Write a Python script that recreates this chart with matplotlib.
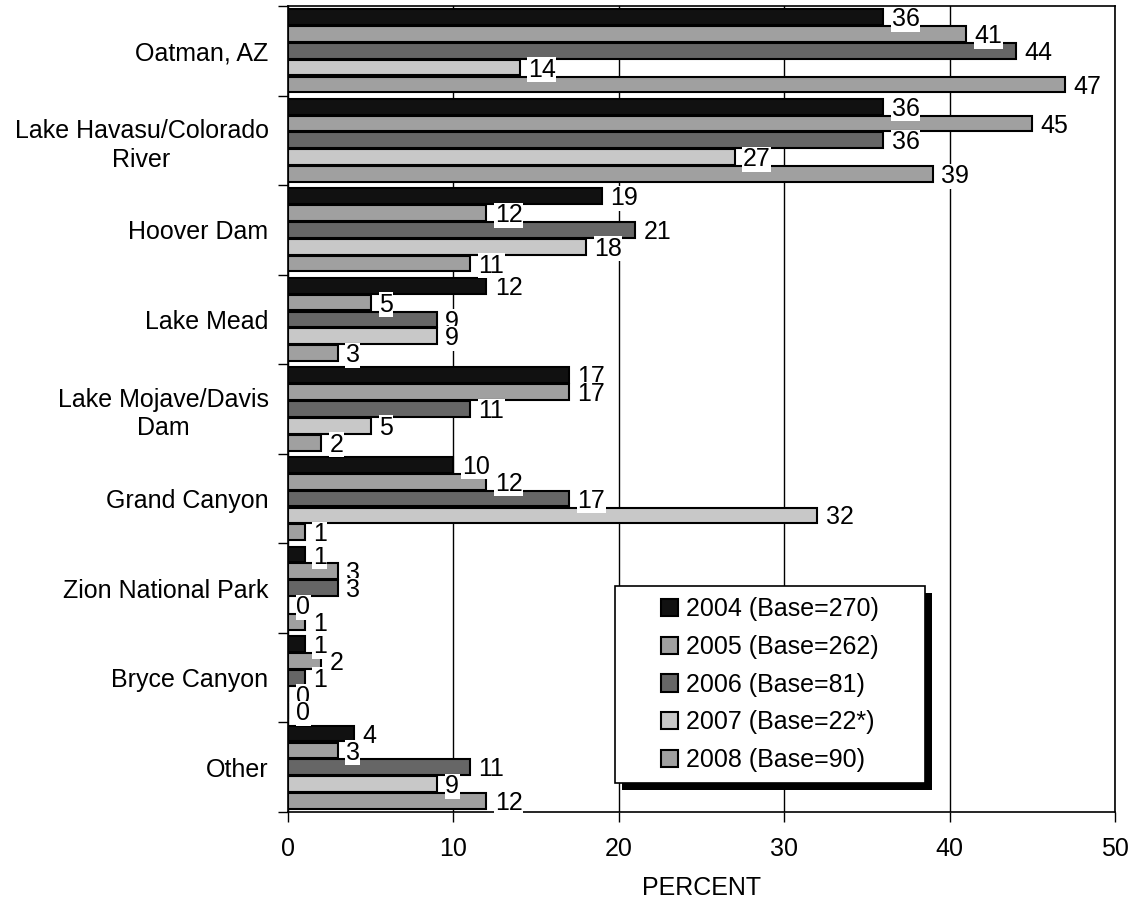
import matplotlib
matplotlib.use('Agg')
import matplotlib.pyplot as plt
from matplotlib.patches import Rectangle
import numpy as np

plt.rcParams['font.family'] = ['Liberation Sans', 'DejaVu Sans']

sites = ['Oatman, AZ', 'Lake Havasu/Colorado\nRiver', 'Hoover Dam', 'Lake Mead',
         'Lake Mojave/Davis\nDam', 'Grand Canyon', 'Zion National Park',
         'Bryce Canyon', 'Other']
series_labels = ['2004 (Base=270)', '2005 (Base=262)', '2006 (Base=81)',
                 '2007 (Base=22*)', '2008 (Base=90)']
v2004 = [36, 36, 19, 12, 17, 10, 1, 1, 4]
v2005 = [41, 45, 12, 5, 17, 12, 3, 2, 3]
v2006 = [44, 36, 21, 9, 11, 17, 3, 1, 11]
v2007 = [14, 27, 18, 9, 5, 32, 0, 0, 9]
v2008 = [47, 39, 11, 3, 2, 1, 1, 0, 12]
colors = ['#111111', '#a0a0a0', '#666666', '#c8c8c8', '#a0a0a0']

FS = 18

fig = plt.figure(figsize=(11.33, 9.07), dpi=100)
ax = fig.add_axes([0.2542, 0.1047, 0.7299, 0.8887])

n = len(sites)
group = np.arange(n)
bar_h = 0.188
for i, vals in enumerate([v2004, v2005, v2006, v2007, v2008]):
    ypos = group - 0.376 + i * bar_h
    bars = ax.barh(ypos, vals, height=bar_h - 0.012, color=colors[i],
                   edgecolor='black', linewidth=1.5, label=series_labels[i], zorder=3)
    for b, v in zip(bars, vals):
        ax.annotate(str(v), (v, b.get_y() + b.get_height() / 2),
                    xytext=(6, -1.5), textcoords='offset points',
                    va='center', ha='left', fontsize=FS, zorder=4,
                    bbox=dict(facecolor='white', edgecolor='none', pad=0.3))

ax.set_xlim(0, 50)
ax.set_ylim(n - 0.5, -0.5)
ax.set_xticks(range(0, 51, 10))
ax.tick_params(axis='x', direction='out', length=7, width=1, labelsize=FS, pad=11)
ax.xaxis.grid(True, color='black', linewidth=1, zorder=0)
ax.set_axisbelow(True)

# group boundaries get tick marks, group centres get the names
ax.set_yticks(np.arange(-0.5, n, 1.0))
ax.set_yticklabels([])
ax.set_yticks(group, minor=True)
ax.set_yticklabels(sites, minor=True, fontsize=FS, linespacing=1.25,
                   multialignment='center')
ax.tick_params(axis='y', which='major', direction='out', length=7, width=1)
ax.tick_params(axis='y', which='minor', length=0, pad=14)

for s in ax.spines.values():
    s.set_linewidth(1.2)

ax.set_xlabel('PERCENT', fontsize=FS, labelpad=11)

leg = ax.legend(loc='center', bbox_to_anchor=(0.583, 0.158), fontsize=FS,
                frameon=False, handlelength=0.68, handleheight=0.68,
                handletextpad=0.3, labelspacing=0.55, borderpad=0.0)
leg.set_zorder(7)

# boxed legend with a hard black drop shadow
fig.canvas.draw()
bb = leg.get_window_extent()
padx, pady, off = 46, 11, 7
x0, y0 = bb.x0 - padx, bb.y0 - pady
w, h = bb.width + 2 * padx, bb.height + 2 * pady
to_fig = fig.transFigure.inverted()
(fx0, fy0), (fx1, fy1) = to_fig.transform([(x0, y0), (x0 + w, y0 + h)])
ox, oy = off / fig.bbox.width, off / fig.bbox.height
shadow = Rectangle((fx0 + ox, fy0 - oy), fx1 - fx0, fy1 - fy0,
                   transform=fig.transFigure, facecolor='black', edgecolor='none',
                   zorder=5, clip_on=False)
box = Rectangle((fx0, fy0), fx1 - fx0, fy1 - fy0, transform=fig.transFigure,
                facecolor='white', edgecolor='black', linewidth=1.2,
                zorder=6, clip_on=False)
ax.add_artist(shadow)
ax.add_artist(box)

fig.savefig('out.png', dpi=100)
